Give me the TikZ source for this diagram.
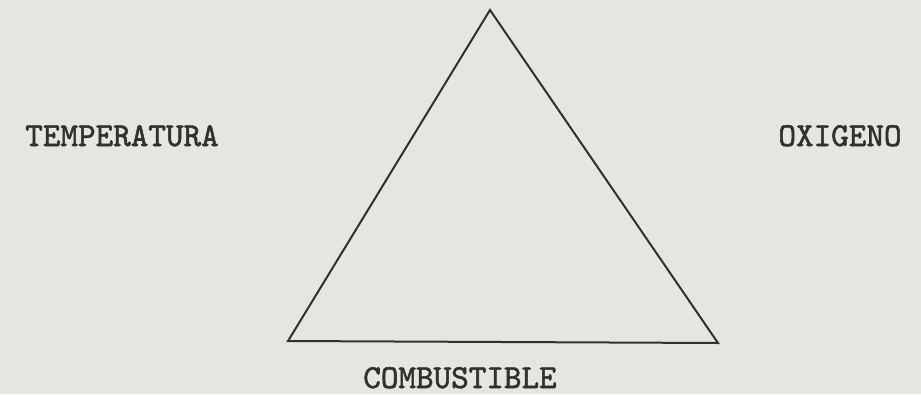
\documentclass[tikz,border=0pt]{standalone}
\usepackage{fontspec}
\usepackage{xcolor}
\usetikzlibrary{positioning}
\newfontfamily\labelfont[FakeBold=1.6]{lmmono10-regular.otf}
\definecolor{paperGray}{RGB}{229,229,225}
\definecolor{inkGray}{RGB}{48,48,46}
\tikzset{
  side label/.style={inkGray,font=\labelfont\bfseries\fontsize{33.5}{34}\selectfont,inner sep=0pt,text depth=0pt,anchor=base},
}
\begin{document}
\begin{tikzpicture}[x=1pt,y=-1pt,line cap=butt,line join=miter]
  \fill[paperGray] (0,0) rectangle (921,394);
  \useasboundingbox (0,0) rectangle (921,394);
  \coordinate (T) at (490,10);
  \coordinate (L) at (288,341);
  \coordinate (R) at (718,343);
  \draw[inkGray,line width=2pt] (T)--(L)--(R)--cycle;
  \node[side label] (temp) at (122,146) {TEMPERATURA};
  \node[side label] (oxi) at (840,146) {OXIGENO};
  \node[side label] (comb) at (460,388) {COMBUSTIBLE};
\end{tikzpicture}
\end{document}
